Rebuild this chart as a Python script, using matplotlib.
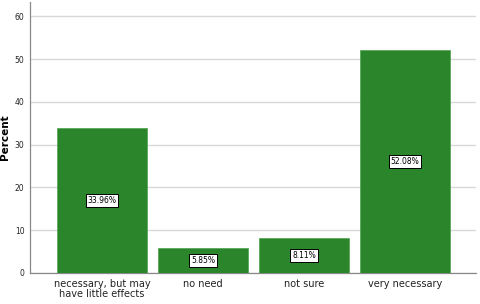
import matplotlib
matplotlib.use("Agg")
import matplotlib.pyplot as plt

categories = ["necessary, but may\nhave little effects", "no need", "not sure", "very necessary"]
values = [33.96, 5.85, 8.11, 52.08]
labels = ["33.96%", "5.85%", "8.11%", "52.08%"]
yticks = [0, 10, 20, 30, 40, 50, 60]

fig = plt.figure(figsize=(4.8, 3.04), dpi=100)
ax = fig.add_axes([0.0625, 0.102, 0.929, 0.891])
x = list(range(len(categories)))
ax.bar(x, values, width=0.89, color="#2b862b", edgecolor="#5aa65a", linewidth=0.6, zorder=3)
for xi, v, lab in zip(x, values, labels):
    ax.text(xi, v / 2, lab, ha="center", va="center", fontsize=5.5, zorder=4,
            bbox=dict(boxstyle="square,pad=0.25", fc="white", ec="black", lw=0.7))
ax.set_xlim(-0.713, 3.70)
ax.set_ylim(0, 63.3)
ax.set_yticks(yticks)
ax.set_yticklabels([str(t) for t in yticks], fontsize=5.5)
ax.set_xticks(x)
ax.set_xticklabels(categories, fontsize=7, linespacing=1.1, color="#222222")
ax.tick_params(axis="both", length=0, pad=4, colors="#222222")
ax.grid(axis="y", color="#d8d8d8", linewidth=1.0, zorder=0)
for s in ["top", "right"]:
    ax.spines[s].set_visible(False)
for s in ["left", "bottom"]:
    ax.spines[s].set_color("#888888")
    ax.spines[s].set_linewidth(0.9)
ax.set_ylabel("Percent", fontsize=7.5, fontweight="bold")
ax.yaxis.set_label_coords(-0.045, 0.5)
fig.savefig("out.png", dpi=100)
